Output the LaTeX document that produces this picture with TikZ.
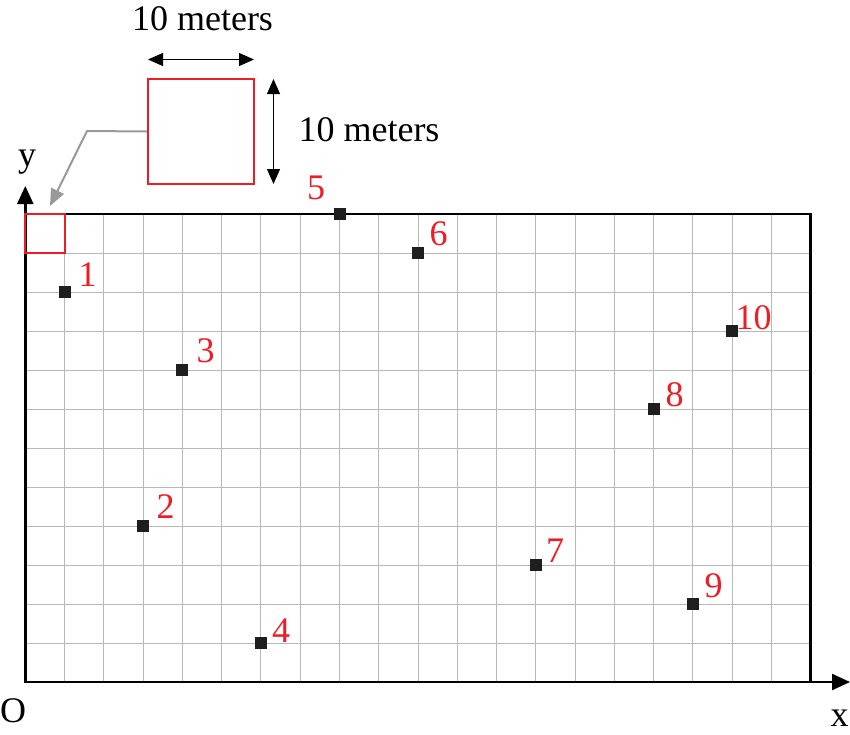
\documentclass[tikz,border=0pt]{standalone}
\usepackage{fontspec}
\setmainfont{Liberation Serif}
\usetikzlibrary{arrows.meta}
\definecolor{gridgray}{HTML}{B8B8B8}
\definecolor{ptblack}{HTML}{1E1E1E}
\definecolor{lblred}{HTML}{EE1C24}
\definecolor{leadgray}{HTML}{999999}
\tikzset{
  gridline/.style={draw=gridgray, line width=1pt},
  border/.style={draw=black, line width=2.4pt},
  axisline/.style={draw=black, line width=2.4pt, -{Triangle[length=18pt,width=16pt]}},
  pt/.style={fill=ptblack, minimum size=12pt, inner sep=0pt, draw=none},
  lbl/.style={text=lblred, font=\fontsize{36}{40}\selectfont, inner sep=0pt, anchor=base},
  txt/.style={text=black, font=\fontsize{36}{40}\selectfont, inner sep=0pt, anchor=base},
  redbox/.style={draw=lblred, line width=2pt, inner sep=0pt},
  dimarrow/.style={draw=black, line width=1pt, {Triangle[length=15pt,width=13pt]}-{Triangle[length=15pt,width=13pt]}},
  leader/.style={draw=leadgray, line width=2pt, -{Triangle[length=17pt,width=14pt]}}
}
\begin{document}
\begin{tikzpicture}[x=1pt,y=-1pt]
\useasboundingbox (0,0) rectangle (850,734);
% grid
\foreach \i in {1,...,19} \draw[gridline] ({25.3+\i*39.27},214) -- ({25.3+\i*39.27},682);
\foreach \j in {1,...,11} \draw[gridline] (25.3,{682-\j*39}) -- (810.6,{682-\j*39});
% border
\draw[border] (25.3,214) rectangle (810.6,682);
% axes
\coordinate (O) at (25.3,682);
\coordinate (xtip) at (850,682);
\coordinate (ytip) at (25.3,186);
\draw[axisline] (O) -- (xtip);
\draw[axisline] (O) -- (ytip);
\node[txt] (Olbl) at (13,722) {O};
\node[txt] (xlbl) at (839.5,726) {x};
\node[txt] (ylbl) at (27,166) {y};
% small red cell
\node[redbox, minimum width=39.27pt, minimum height=39pt] (cell) at ({25.3+19.635},233.5) {};
% inset box
\node[redbox, minimum width=106pt, minimum height=105pt] (inset) at (201,131.5) {};
\coordinate (bend) at (87,131);
\coordinate (gtip) at (50,206);
\draw[leader] (inset.west) -- (bend) -- (gtip);
% dimension arrows
\coordinate (ha) at (148,59.5);
\coordinate (hb) at (254,59.5);
\coordinate (va) at (273.5,79);
\coordinate (vb) at (273.5,184);
\draw[dimarrow] (ha) -- (hb);
\draw[dimarrow] (va) -- (vb);
\node[txt] (dimh) at (202.5,30) {10 meters};
\node[txt] (dimv) at (369,141.5) {10 meters};
% points
\node[pt] (p1) at (64.6,292) {};
\node[pt] (p2) at (143.1,526) {};
\node[pt] (p3) at (182.4,370) {};
\node[pt] (p4) at (260.9,643) {};
\node[pt] (p5) at (339.5,214) {};
\node[pt] (p6) at (418,253) {};
\node[pt] (p7) at (535.8,565) {};
\node[pt] (p8) at (653.6,409) {};
\node[pt] (p9) at (692.9,604) {};
\node[pt] (p10) at (732.2,331) {};
% labels
\node[lbl] (l1) at (87.5,286) {1};
\node[lbl] (l2) at (165.5,518) {2};
\node[lbl] (l3) at (205.5,362) {3};
\node[lbl] (l4) at (281,642) {4};
\node[lbl] (l5) at (316,199) {5};
\node[lbl] (l6) at (438.5,245) {6};
\node[lbl] (l7) at (555,562) {7};
\node[lbl] (l8) at (674.5,406) {8};
\node[lbl] (l9) at (713.5,597) {9};
\node[lbl] (l10) at (753.5,329) {10};
\end{tikzpicture}
\end{document}
